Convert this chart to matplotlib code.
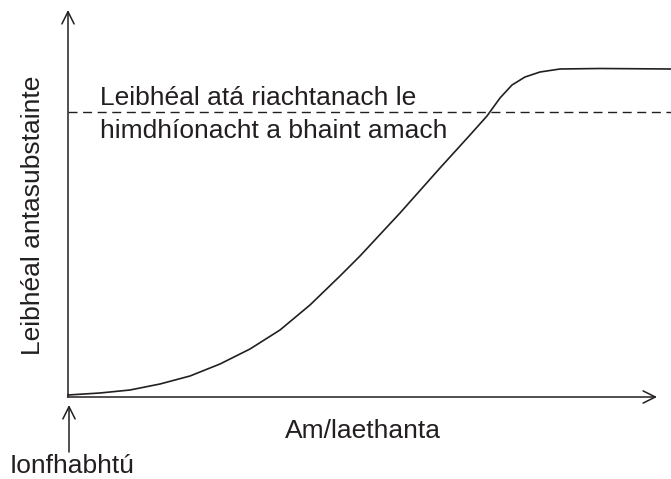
import matplotlib.pyplot as plt

plt.rcParams['font.family'] = ['Liberation Sans', 'DejaVu Sans']

# antibody level curve (canvas units, level grows upward)
days = [68, 100, 130, 160, 190, 220, 250, 280, 310, 340, 360, 400, 440, 470,
        487, 500, 512, 525, 540, 560, 600, 671]
level = [84, 86, 89, 95, 103, 115, 130, 149, 174, 203, 223, 266, 311, 344,
         363, 381, 394, 402, 407, 410, 410.5, 410]
threshold = 367

dashed_label = ["Leibhéal atá riachtanach le", "himdhíonacht a bhaint amach"]
x_label = "Am/laethanta"
y_label = "Leibhéal antasubstainte"
event_label = "Ionfhabhtú"

ink = '#231f20'
fs = 19

fig = plt.figure(figsize=(6.71, 4.79), dpi=100)
ax = fig.add_axes([0, 0, 1, 1])
ax.set_xlim(0, 671)
ax.set_ylim(0, 479)
ax.axis('off')

arrow = dict(arrowstyle='->', color=ink, lw=1.1, mutation_scale=22,
             shrinkA=0, shrinkB=0)
# axes drawn as arrows
ax.annotate('', xy=(68, 469), xytext=(68, 82), arrowprops=arrow)
ax.annotate('', xy=(657, 82), xytext=(67.5, 82), arrowprops=arrow)

ax.plot(days, level, color=ink, lw=1.2, solid_joinstyle='round')
ax.plot([68, 671], [threshold, threshold], color=ink, lw=1.0, dashes=(6.5, 4))

ax.text(100, 374, dashed_label[0], fontsize=fs, color=ink, va='baseline')
ax.text(100, 341, dashed_label[1], fontsize=fs, color=ink, va='baseline')
ax.text(363, 41, x_label, fontsize=fs, color=ink, ha='center', va='baseline')
ax.text(33, 264, y_label, fontsize=fs, color=ink, ha='center', va='center',
        rotation=90)

ax.annotate('', xy=(69, 74), xytext=(69, 27), arrowprops=arrow)
ax.text(10, 6, event_label, fontsize=fs, color=ink, ha='left', va='baseline')

fig.savefig('out.png', dpi=100)
